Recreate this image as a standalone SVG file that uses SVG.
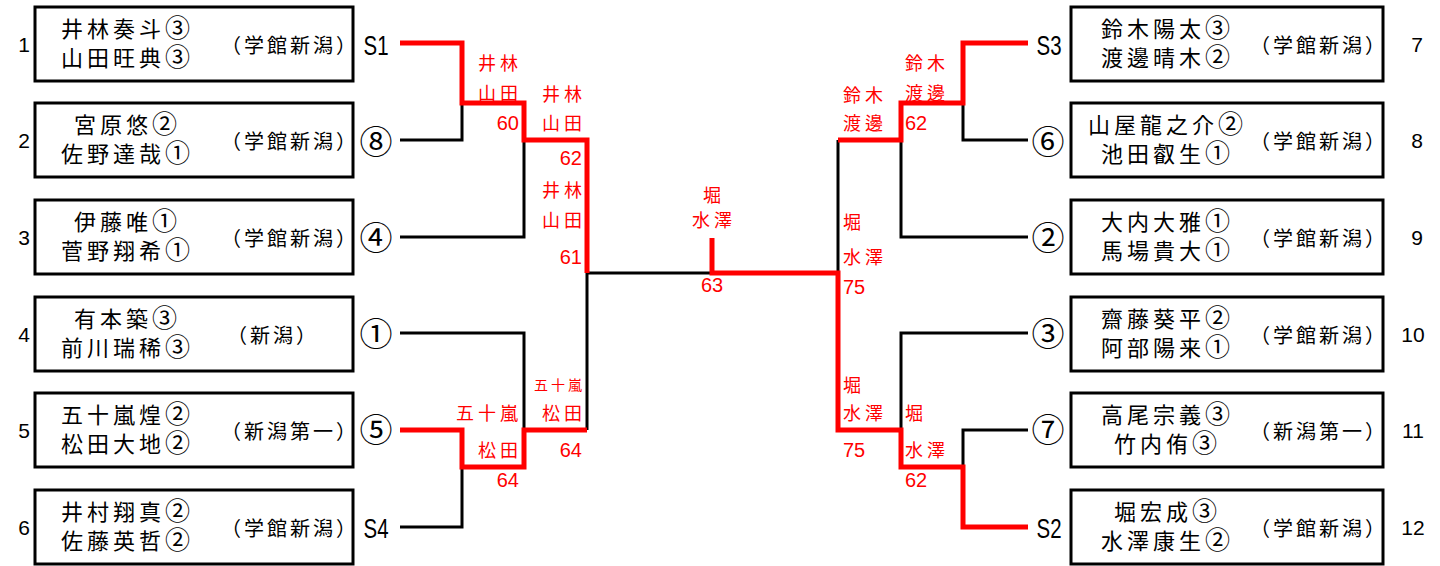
<svg xmlns="http://www.w3.org/2000/svg" width="1440" height="566" viewBox="0 0 1440 566">
<style>
.box{fill:#fff;stroke:#000;stroke-width:3}
.nm{font-family:"Liberation Sans","Noto Sans CJK JP",sans-serif;font-size:22px;letter-spacing:4px;text-anchor:middle;fill:#000}
.c{font-size:25px;letter-spacing:1px}
.sc{font-family:"Noto Sans CJK JP",sans-serif;font-size:20px;letter-spacing:3px;text-anchor:middle;fill:#000}
.no{font-family:"Liberation Sans",sans-serif;font-size:21px;text-anchor:middle;fill:#000}
.lb{font-family:"Liberation Sans",sans-serif;font-size:27px;text-anchor:middle;fill:#000}
.ci{font-family:"Noto Sans CJK JP",sans-serif;font-size:33px;text-anchor:middle;fill:#000}
.bl{fill:none;stroke:#000;stroke-width:3}
.rd{fill:none;stroke:#f00;stroke-width:5}
.rk{font-family:"Noto Sans CJK JP",sans-serif;font-size:18px;letter-spacing:4px;fill:#f00}
.rs{font-family:"Noto Sans CJK JP",sans-serif;font-size:14px;letter-spacing:3px;fill:#f00}
.rn{font-family:"Liberation Sans",sans-serif;font-size:20px;fill:#f00}
.e{text-anchor:end}
.m{text-anchor:middle}
</style>
<g id="connectors">
<path class="bl" d="M400,140 H462 V103"/>
<path class="bl" d="M400,237 H524 V140"/>
<path class="bl" d="M400,333 H524 V430"/>
<path class="bl" d="M587,430 V273 H712"/>
<path class="bl" d="M400,527 H462 V467"/>
<path class="bl" d="M838,273 V140"/>
<path class="bl" d="M1028,140 H963 V103"/>
<path class="bl" d="M1028,237 H901 V140"/>
<path class="bl" d="M1028,333 H901 V430"/>
<path class="bl" d="M1028,430 H963 V467"/>
<path class="rd" d="M400,43 H462 V103 H524 V140 H587 V273"/>
<path class="rd" d="M400,430 H462 V467 H524 V430 H587"/>
<path class="rd" d="M712,238 V273 H838 V430 H901 V467 H963 V527 H1028"/>
<path class="rd" d="M1028,43 H963 V103 H901 V140 H838"/>
</g>
<g id="scores">
<text class="rk e" x="522" y="70">井林</text>
<text class="rk e" x="522" y="100">山田</text>
<text class="rn e" x="519" y="130">60</text>
<text class="rk e" x="586" y="101">井林</text>
<text class="rk e" x="586" y="130">山田</text>
<text class="rn e" x="582" y="165">62</text>
<text class="rk e" x="586" y="197">井林</text>
<text class="rk e" x="586" y="227">山田</text>
<text class="rn e" x="582" y="264">61</text>
<text class="rk e" x="522" y="420">五十嵐</text>
<text class="rk e" x="522" y="457">松田</text>
<text class="rn e" x="519" y="487">64</text>
<text class="rs e" x="585" y="390">五十嵐</text>
<text class="rk e" x="586" y="420">松田</text>
<text class="rn e" x="582" y="457">64</text>
<text class="rk m" x="714" y="202">堀</text>
<text class="rk m" x="714" y="227">水澤</text>
<text class="rn m" x="712" y="292">63</text>
<text class="rk" x="905" y="70">鈴木</text>
<text class="rk" x="905" y="100">渡邊</text>
<text class="rn" x="905" y="130">62</text>
<text class="rk" x="843" y="102">鈴木</text>
<text class="rk" x="843" y="130">渡邊</text>
<text class="rk" x="843" y="229">堀</text>
<text class="rk" x="843" y="264">水澤</text>
<text class="rn" x="843" y="294">75</text>
<text class="rk" x="843" y="392">堀</text>
<text class="rk" x="843" y="420">水澤</text>
<text class="rn" x="843" y="457">75</text>
<text class="rk" x="905" y="420">堀</text>
<text class="rk" x="905" y="457">水澤</text>
<text class="rn" x="905" y="487">62</text>
</g>
<g id="p1">
<rect class="box" x="35" y="7" width="318" height="74"/>
<text class="no" x="24" y="52">1</text>
<text class="nm" x="126" y="37">井林奏斗<tspan class="c">③</tspan><tspan x="126" dy="29">山田旺典<tspan class="c">③</tspan></tspan></text>
<text class="sc" x="290" y="53">（学館新潟）</text>
<text class="lb" x="376" y="55" textLength="25" lengthAdjust="spacingAndGlyphs">S1</text>
</g>
<g id="p2">
<rect class="box" x="35" y="103" width="318" height="74"/>
<text class="no" x="24" y="148">2</text>
<text class="nm" x="126" y="133">宮原悠<tspan class="c">②</tspan><tspan x="126" dy="29">佐野達哉<tspan class="c">①</tspan></tspan></text>
<text class="sc" x="290" y="149">（学館新潟）</text>
<text class="ci" x="376" y="154">⑧</text>
</g>
<g id="p3">
<rect class="box" x="35" y="200" width="318" height="74"/>
<text class="no" x="24" y="245">3</text>
<text class="nm" x="126" y="230">伊藤唯<tspan class="c">①</tspan><tspan x="126" dy="29">菅野翔希<tspan class="c">①</tspan></tspan></text>
<text class="sc" x="290" y="246">（学館新潟）</text>
<text class="ci" x="376" y="250">④</text>
</g>
<g id="p4">
<rect class="box" x="35" y="297" width="318" height="74"/>
<text class="no" x="24" y="342">4</text>
<text class="nm" x="126" y="327">有本築<tspan class="c">③</tspan><tspan x="126" dy="29">前川瑞稀<tspan class="c">③</tspan></tspan></text>
<text class="sc" x="273" y="343">（新潟）</text>
<text class="ci" x="376" y="346">①</text>
</g>
<g id="p5">
<rect class="box" x="35" y="393" width="318" height="74"/>
<text class="no" x="24" y="438">5</text>
<text class="nm" x="126" y="423">五十嵐煌<tspan class="c">②</tspan><tspan x="126" dy="29">松田大地<tspan class="c">②</tspan></tspan></text>
<text class="sc" x="290" y="439">（新潟第一）</text>
<text class="ci" x="376" y="442">⑤</text>
</g>
<g id="p6">
<rect class="box" x="35" y="490" width="318" height="74"/>
<text class="no" x="24" y="535">6</text>
<text class="nm" x="126" y="520">井村翔真<tspan class="c">②</tspan><tspan x="126" dy="29">佐藤英哲<tspan class="c">②</tspan></tspan></text>
<text class="sc" x="290" y="536">（学館新潟）</text>
<text class="lb" x="376" y="538" textLength="25" lengthAdjust="spacingAndGlyphs">S4</text>
</g>
<g id="p7">
<rect class="box" x="1071" y="7" width="312" height="74"/>
<text class="no" x="1417" y="52">7</text>
<text class="nm" x="1166" y="37">鈴木陽太<tspan class="c">③</tspan><tspan x="1166" dy="29">渡邊晴木<tspan class="c">②</tspan></tspan></text>
<text class="sc" x="1319" y="53">（学館新潟）</text>
<text class="lb" x="1049" y="55" textLength="25" lengthAdjust="spacingAndGlyphs">S3</text>
</g>
<g id="p8">
<rect class="box" x="1071" y="103" width="312" height="74"/>
<text class="no" x="1417" y="148">8</text>
<text class="nm" x="1166" y="133">山屋龍之介<tspan class="c">②</tspan><tspan x="1166" dy="29">池田叡生<tspan class="c">①</tspan></tspan></text>
<text class="sc" x="1319" y="149">（学館新潟）</text>
<text class="ci" x="1048" y="154">⑥</text>
</g>
<g id="p9">
<rect class="box" x="1071" y="200" width="312" height="74"/>
<text class="no" x="1417" y="245">9</text>
<text class="nm" x="1166" y="230">大内大雅<tspan class="c">①</tspan><tspan x="1166" dy="29">馬場貴大<tspan class="c">①</tspan></tspan></text>
<text class="sc" x="1319" y="246">（学館新潟）</text>
<text class="ci" x="1048" y="250">②</text>
</g>
<g id="p10">
<rect class="box" x="1071" y="297" width="312" height="74"/>
<text class="no" x="1413" y="342">10</text>
<text class="nm" x="1166" y="327">齋藤葵平<tspan class="c">②</tspan><tspan x="1166" dy="29">阿部陽来<tspan class="c">①</tspan></tspan></text>
<text class="sc" x="1319" y="343">（学館新潟）</text>
<text class="ci" x="1048" y="346">③</text>
</g>
<g id="p11">
<rect class="box" x="1071" y="393" width="312" height="74"/>
<text class="no" x="1413" y="438">11</text>
<text class="nm" x="1166" y="423">高尾宗義<tspan class="c">③</tspan><tspan x="1166" dy="29">竹内侑<tspan class="c">③</tspan></tspan></text>
<text class="sc" x="1319" y="439">（新潟第一）</text>
<text class="ci" x="1048" y="442">⑦</text>
</g>
<g id="p12">
<rect class="box" x="1071" y="490" width="312" height="74"/>
<text class="no" x="1413" y="535">12</text>
<text class="nm" x="1166" y="520">堀宏成<tspan class="c">③</tspan><tspan x="1166" dy="29">水澤康生<tspan class="c">②</tspan></tspan></text>
<text class="sc" x="1319" y="536">（学館新潟）</text>
<text class="lb" x="1049" y="538" textLength="25" lengthAdjust="spacingAndGlyphs">S2</text>
</g>
</svg>
